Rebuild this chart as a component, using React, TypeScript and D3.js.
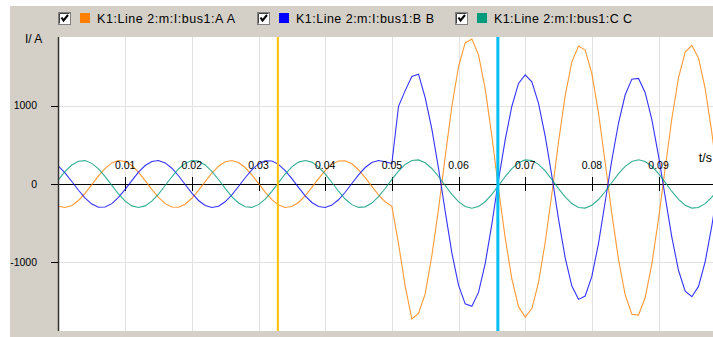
import React from "react";
import * as d3 from "d3";

// sample spacing of the recorded currents (seconds)
const sampleStep = 0.001;

// phase currents in A, one value per sample (t = 0 … 0.099 s)
const currentA = [
  -283, -300, -274, -210, -117, -7, 104, 200, 269, 299, 287, 235, 150, 44, -68, -171, -250, -293, -296, -257, -182, -81, 31, 139, 227,
  283, 300, 274, 210, 117, 7, -104, -200, -269, -299, -287, -235, -150, -44, 68, 171, 250, 293, 296, 257, 182, 81, -31, -139, -227,
  -283, -760, -1300, -1720, -1650, -1400, -914, -320, 346, 989, 1497, 1797, 1848, 1645, 1213, 614, -64, -686, -1209, -1563, -1695, -1587, -1254, -742, -127,
  535, 1126, 1556, 1758, 1706, 1407, 904, 271, -381, -964, -1412, -1659, -1670, -1446, -1017, -444, 200, 835, 1354, 1680, 1766, 1604, 1214, 651, 0,
];
const currentB = [
  227, 139, 32, -80, -181, -256, -296, -294, -250, -171, -69, 43, 150, 235, 287, 299, 269, 201, 105, -6, -116, -210, -274, -300, -283,
  -227, -139, -32, 80, 181, 256, 296, 294, 250, 171, 69, -43, -150, -235, -287, -299, -269, -201, -105, 6, 116, 210, 274, 300, 283,
  260, 990, 1190, 1370, 1400, 1100, 700, 200, -346, -877, -1289, -1527, -1559, -1381, -1015, -511, 53, 563, 991, 1281, 1390, 1301, 1028, 609, 104,
  -447, -941, -1301, -1470, -1427, -1177, -756, -226, 307, 777, 1137, 1336, 1345, 1164, 819, 358, -163, -680, -1102, -1366, -1437, -1305, -988, -530, 0,
];
const currentC = [
  56, 160, 242, 290, 298, 263, 192, 93, -18, -127, -218, -279, -300, -279, -219, -128, -19, 92, 191, 263, 298, 291, 243, 161, 57,
  -56, -160, -242, -290, -298, -263, -192, -93, 18, 127, 218, 279, 300, 279, 219, 128, 19, -92, -191, -263, -298, -291, -243, -161, -57,
  58, 165, 249, 299, 307, 271, 198, 96, -19, -131, -225, -287, -309, -287, -226, -132, -20, 95, 197, 271, 307, 300, 250, 166, 59,
  -58, -165, -249, -299, -307, -271, -198, -96, 19, 131, 225, 287, 309, 287, 226, 132, 20, -95, -197, -271, -307, -300, -250, -166, -59,
];

const seriesNames = ["K1:Line 2:m:I:bus1:A A", "K1:Line 2:m:I:bus1:B B", "K1:Line 2:m:I:bus1:C C"];
const seriesColors = ["#ff8000", "#0000ff", "#009a7c"];
const xTicks = [0.01, 0.02, 0.03, 0.04, 0.05, 0.06, 0.07, 0.08, 0.09];
const xTickLabels = ["0.01", "0.02", "0.03", "0.04", "0.05", "0.06", "0.07", "0.08", "0.09"];
const yTicks = [1000, 0, -1000];
const yTickLabels = ["1000", "0", "-1000"];
const cursorTimes = [0.0329, 0.0659];
const cursorColors = ["#ffc000", "#00bff5"];
const cursorWidths = [2, 3];

const W = 713;
const H = 337;
const plotLeft = 58;
const plotRight = 713;
const plotTop = 37;
const plotBottom = 331;

export default function App() {
  const x = d3.scaleLinear().domain([0, 0.1]).range([58.5, 58.5 + 666.7]);
  const y = d3.scaleLinear().domain([-1873, 1873]).range([plotBottom, plotTop]);
  const series = [currentA, currentB, currentC];
  const line = d3
    .line<number>()
    .x((_, i) => x(i * sampleStep))
    .y((d) => y(d))
    .curve(d3.curveLinear);

  const font = "'Liberation Sans', Arial, sans-serif";
  const legendX = [58, 257, 455];

  return (
    <svg
      width={W}
      height={H}
      style={{ position: "absolute", left: 0, top: 0, display: "block" }}
      fontFamily={font}
    >
      <defs>
        <clipPath id="plotClip">
          <rect x={plotLeft} y={plotTop} width={plotRight - plotLeft} height={plotBottom - plotTop} />
        </clipPath>
      </defs>
      <rect x={0} y={0} width={W} height={H} fill="#ffffff" />
      <rect x={10} y={6} width={W - 10} height={H - 6} fill="#d4d0c8" />
      <rect x={plotLeft} y={plotTop} width={plotRight - plotLeft} height={plotBottom - plotTop} fill="#ffffff" />

      {/* legend */}
      {seriesNames.map((name, i) => {
        const lx = legendX[i];
        return (
          <g key={name}>
            <rect x={lx + 0.5} y={12.5} width={12} height={12} fill="#ffffff" stroke="#808080" />
            <path d={`M${lx + 1.5},${23.5} L${lx + 1.5},${13.5} L${lx + 11.5},${13.5}`} fill="none" stroke="#404040" />
            <path
              d={`M${lx + 3.5},${17.5} L${lx + 5.5},${20.5} L${lx + 10},${15}`}
              fill="none"
              stroke="#000"
              strokeWidth={2}
            />
            <rect x={lx + 22} y={13} width={10} height={10} fill={seriesColors[i]} />
            <text x={lx + 39} y={23} fontSize={12.5} fill="#000" textLength={138} lengthAdjust="spacing">
              {name}
            </text>
          </g>
        );
      })}

      {/* grid */}
      {xTicks.map((t) => (
        <line key={"gx" + t} x1={Math.round(x(t)) + 0.5} x2={Math.round(x(t)) + 0.5} y1={plotTop} y2={plotBottom} stroke="#e2e2e2" />
      ))}
      {yTicks
        .filter((v) => v !== 0)
        .map((v) => (
          <line key={"gy" + v} x1={plotLeft} x2={plotRight} y1={Math.round(y(v)) + 0.5} y2={Math.round(y(v)) + 0.5} stroke="#e2e2e2" />
        ))}

      {/* x axis (zero line) */}
      <line x1={plotLeft} x2={plotRight} y1={Math.round(y(0)) + 0.5} y2={Math.round(y(0)) + 0.5} stroke="#000" />
      {xTicks.map((t) => (
        <line key={"tx" + t} x1={Math.round(x(t)) + 0.5} x2={Math.round(x(t)) + 0.5} y1={y(0) - 7} y2={y(0) + 7} stroke="#000" />
      ))}

      {/* curves */}
      <g clipPath="url(#plotClip)">
        {series.map((s, i) => (
          <path key={i} d={line(s) || ""} fill="none" stroke={seriesColors[i]} strokeWidth={1.1} strokeOpacity={0.8} />
        ))}
      </g>

      {xTicks.map((t, i) => (
        <text key={"lx" + t} x={x(t)} y={169} fontSize={10.5} textAnchor="middle" fill="#000">
          {xTickLabels[i]}
        </text>
      ))}

      {/* cursors */}
      {cursorTimes.map((t, i) => (
        <line key={"c" + i} x1={x(t)} x2={x(t)} y1={plotTop} y2={plotBottom} stroke={cursorColors[i]} strokeWidth={cursorWidths[i]} />
      ))}

      {/* y axis */}
      <line x1={plotLeft + 0.5} x2={plotLeft + 0.5} y1={plotTop} y2={plotBottom} stroke="#303030" strokeWidth={1.5} />
      {yTicks.map((v, i) => (
        <g key={"ty" + v}>
          <line x1={51} x2={plotLeft} y1={Math.round(y(v)) + 0.5} y2={Math.round(y(v)) + 0.5} stroke="#000" />
          <text x={37} y={y(v) + 3.5} fontSize={10.5} textAnchor="end" fill="#000">
            {yTickLabels[i]}
          </text>
        </g>
      ))}

      <text x={25} y={43} fontSize={12} fill="#000">
        I/ A
      </text>
      <text x={712} y={162} fontSize={12.5} textAnchor="end" fill="#000">
        t/s
      </text>
    </svg>
  );
}
